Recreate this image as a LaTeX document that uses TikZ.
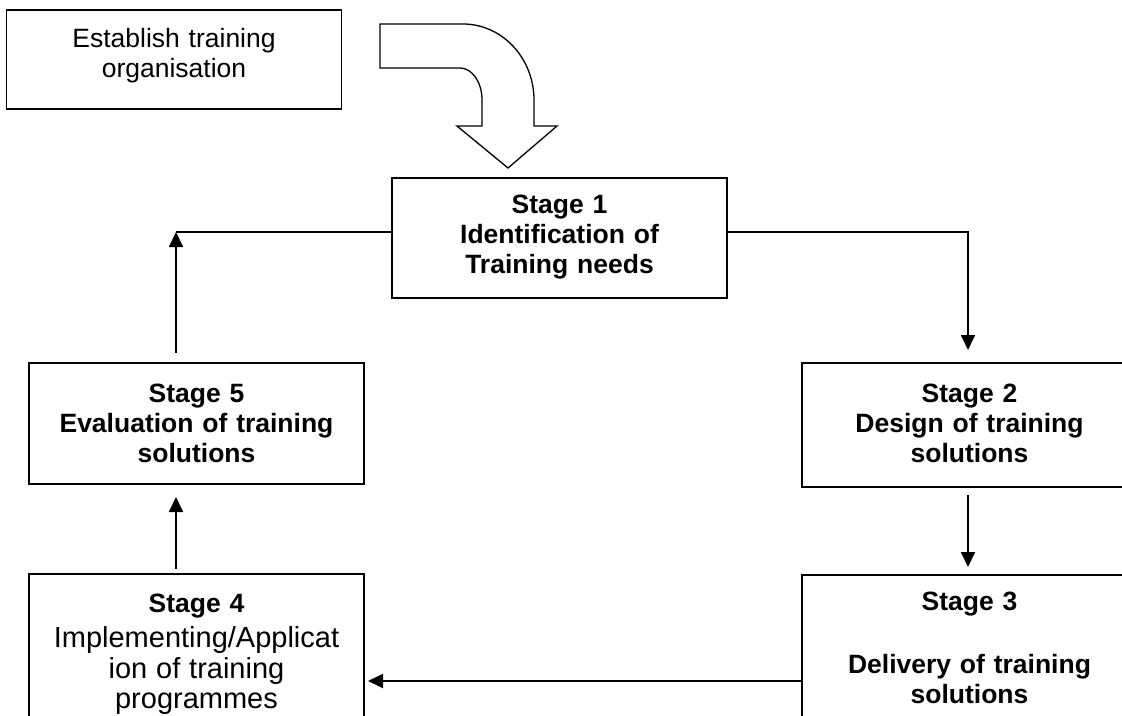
\documentclass[tikz,border=0pt]{standalone}
\usepackage{fontspec}
\setmainfont{Liberation Sans}
\usetikzlibrary{arrows.meta,positioning}

\begin{document}
\begin{tikzpicture}[x=1pt, y=-1pt, line width=1.8pt, >={Triangle[length=15pt,width=14pt]},
    stagebox/.style={draw, rectangle, anchor=north, inner sep=0pt, outer sep=0pt,
        text width=335pt, align=center, font=\fontsize{26.5}{30}\selectfont},
    boldbox/.style={stagebox, font=\bfseries\fontsize{26.5}{30}\selectfont}]
    \useasboundingbox (0,0) rectangle (1122,715);
    \clip (0,0) rectangle (1122,715);

    \node [stagebox, text height=37pt, text depth=62pt] (EO) at (174,10) {Establish training\\organisation};
    \node [boldbox, text height=35pt, text depth=85pt] (S1) at (559.5,178) {Stage 1\\Identification of\\Training needs};
    \node [boldbox, text height=39pt, text depth=85pt] (S2) at (969.5,363) {Stage 2\\Design of training\\solutions};
    \node [boldbox, text height=35pt, text depth=140pt] (S3) at (969.5,575) {Stage 3\\[33pt]Delivery of training\\solutions};
    \node [stagebox, text height=38pt, text depth=160pt] (S4) at (196.5,574) {\textbf{Stage 4}\\[4pt]\fontsize{29}{31}\selectfont Implementing/Applicat\\ion of training\\programmes};
    \node [boldbox, text height=39pt, text depth=82pt] (S5) at (196.5,363) {Stage 5\\Evaluation of training\\solutions};

    % hollow bent arrow into stage 1
    \draw [line width=1.3pt] (380,24) -- (463,24) .. controls (502,24) and (534,58) .. (534,100) -- (534,126) -- (557,126) -- (508,168) -- (457,126) -- (482,126) -- (482,100) .. controls (482,82) and (472,68) .. (460,68) -- (380,68) -- cycle;

    \coordinate (L) at (176,232);
    \coordinate (R) at (968,232);
    \coordinate (B) at (585,681);
    \draw (L -| S1.west) -- (L);
    \draw [->, shorten >=13pt] (R -| S1.east) -- (R) -- (R |- S2.north);
    \draw [->, shorten <=8pt, shorten >=8pt] (R |- S2.south) -- (R |- S3.north);
    \draw [->, shorten >=4pt] (B -| S3.west) -- (B -| S4.east);
    \draw [->, shorten <=5pt, shorten >=13pt] (L |- S4.north) -- (L |- S5.south);
    \draw [->, shorten <=10pt] (L |- S5.north) -- (L); % back to stage 1

\end{tikzpicture}
\end{document}
